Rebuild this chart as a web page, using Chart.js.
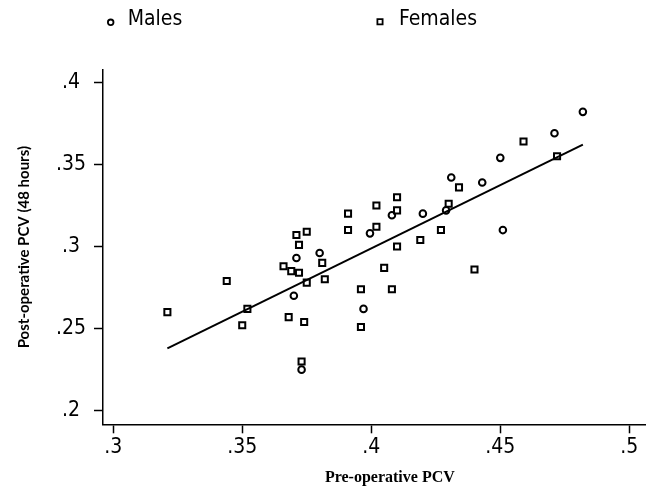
<!DOCTYPE html>
<html>
<head>
<meta charset="utf-8">
<script src="https://cdn.jsdelivr.net/npm/chart.js@4.4.0/dist/chart.umd.min.js"></script>
<style>
  html, body { margin: 0; padding: 0; background: #fff; overflow: hidden; }
  /* the original figure is cropped on the right: the plot runs past the page edge */
  #wrap { width: 646px; height: 491px; overflow: hidden; }
</style>
</head>
<body>
<div id="wrap"><canvas id="chart" width="683" height="491"></canvas></div>
<script>
// --- DATA ---
const seriesNames = ['Males', 'Females'];
const maleX = [0.371, 0.380, 0.370, 0.373, 0.3995, 0.397, 0.408, 0.420, 0.429, 0.431, 0.443, 0.450, 0.451, 0.471, 0.482];
const maleY = [0.293, 0.296, 0.270, 0.225, 0.308, 0.262, 0.319, 0.320, 0.322, 0.342, 0.339, 0.354, 0.310, 0.369, 0.382];
const femaleX = [0.321, 0.344, 0.352, 0.350, 0.366, 0.369, 0.372, 0.371, 0.372, 0.375, 0.381, 0.375, 0.382, 0.368, 0.374, 0.373,
                 0.391, 0.391, 0.402, 0.402, 0.396, 0.396, 0.405, 0.410, 0.410, 0.410, 0.408, 0.419, 0.427, 0.430, 0.434, 0.440, 0.459, 0.472];
const femaleY = [0.260, 0.279, 0.262, 0.252, 0.288, 0.285, 0.284, 0.307, 0.301, 0.309, 0.290, 0.278, 0.280, 0.257, 0.254, 0.230,
                 0.320, 0.310, 0.325, 0.312, 0.274, 0.251, 0.287, 0.330, 0.322, 0.300, 0.274, 0.304, 0.310, 0.326, 0.336, 0.286, 0.364, 0.355];
// fitted regression line, drawn between the smallest and largest pre-op values
const fitX = [0.321, 0.482];
const fitY = [0.238, 0.362];

const xTickValues = [0.3, 0.35, 0.4, 0.45, 0.5];
const xTickLabels = ['.3', '.35', '.4', '.45', '.5'];
const yTickValues = [0.2, 0.25, 0.3, 0.35, 0.4];
const yTickLabels = ['.2', '.25', '.3', '.35', '.4'];
const xTitle = 'Pre-operative PCV';
const yTitle = 'Post-operative PCV (48 hours)';

// --- STYLE ---
const INK = '#000';
const TICK_FONT = { family: '"Liberation Sans Narrow", "DejaVu Sans Condensed", sans-serif', size: 21 };
const toPoints = (xs, ys) => xs.map((x, i) => ({ x, y: ys[i] }));

// legend drawn at the top like the original (two widely spaced items)
const topLegend = {
  id: 'topLegend',
  afterDraw(chart) {
    const ctx = chart.ctx;
    const spots = [{ mx: 110.7, tx: 127.7 }, { mx: 380, tx: 399 }];
    ctx.save();
    ctx.font = `${TICK_FONT.size}px ${TICK_FONT.family}`;
    ctx.textBaseline = 'middle';
    ctx.fillStyle = INK;
    ctx.strokeStyle = INK;
    ctx.lineWidth = 1.8;
    chart.data.datasets.slice(0, 2).forEach((ds, i) => {
      const s = spots[i];
      ctx.beginPath();
      if (ds.pointStyle === 'circle') ctx.arc(s.mx, 22.3, 2.8, 0, Math.PI * 2);
      else ctx.rect(s.mx - 2.6, 21.7 - 2.6, 5.2, 5.2);
      ctx.stroke();
      ctx.fillText(ds.label, s.tx, 20);
    });
    ctx.restore();
  }
};

// keep the plot box exactly where the original has it (no label overhang padding)
const noOverhang = s => { s.paddingLeft = 0; s.paddingRight = 0; s.paddingTop = 0; s.paddingBottom = 0; };

const ctx = document.getElementById('chart').getContext('2d');
new Chart(ctx, {
  type: 'scatter',
  data: {
    datasets: [
      { label: seriesNames[0], data: toPoints(maleX, maleY), pointStyle: 'circle', pointRadius: 3.3, pointBorderWidth: 2,
        borderColor: INK, backgroundColor: 'rgba(0,0,0,0)' },
      { label: seriesNames[1], data: toPoints(femaleX, femaleY), pointStyle: 'rect', pointRadius: 4.3, pointBorderWidth: 2,
        borderColor: INK, backgroundColor: 'rgba(0,0,0,0)' },
      { type: 'line', label: 'fit', data: toPoints(fitX, fitY), borderColor: INK, borderWidth: 2, pointRadius: 0, fill: false }
    ]
  },
  options: {
    responsive: false,
    animation: false,
    layout: { padding: { top: 70, right: 0, bottom: 0, left: 0 } },
    plugins: { legend: { display: false }, tooltip: { enabled: false } },
    scales: {
      x: {
        type: 'linear', position: 'bottom', min: 0.29605, max: 0.51836,
        afterBuildTicks: s => { s.ticks = xTickValues.map(v => ({ value: v })); },
        afterFit: s => { s.height = 66.7; noOverhang(s); },
        ticks: { callback: (v, i) => xTickLabels[i], font: TICK_FONT, color: INK, padding: 2, maxRotation: 0, autoSkip: false },
        grid: { drawOnChartArea: false, drawTicks: true, tickLength: 9, tickColor: INK, tickWidth: 1.5 },
        border: { display: true, color: INK, width: 1.5 },
        title: { display: true, text: xTitle, color: INK, font: { family: '"Liberation Serif", "Times New Roman", serif', size: 16, weight: 'bold' },
                 padding: { top: 0, bottom: 4 } }
      },
      y: {
        type: 'linear', position: 'left', min: 0.1917, max: 0.4075,
        afterBuildTicks: s => { s.ticks = yTickValues.map(v => ({ value: v })); },
        afterFit: s => { s.width = 103; noOverhang(s); },
        ticks: { callback: (v, i) => yTickLabels[i], font: TICK_FONT, color: INK, padding: 8, crossAlign: 'center', autoSkip: false },
        grid: { drawOnChartArea: false, drawTicks: true, tickLength: 9, tickColor: INK, tickWidth: 1.5 },
        border: { display: true, color: INK, width: 1.5 },
        title: { display: true, text: yTitle, color: INK, font: { family: 'Lato, "Liberation Sans", sans-serif', size: 15, weight: 'bold' },
                 padding: { top: 15, bottom: 0 } }
      }
    }
  },
  plugins: [topLegend]
});
</script>
</body>
</html>
